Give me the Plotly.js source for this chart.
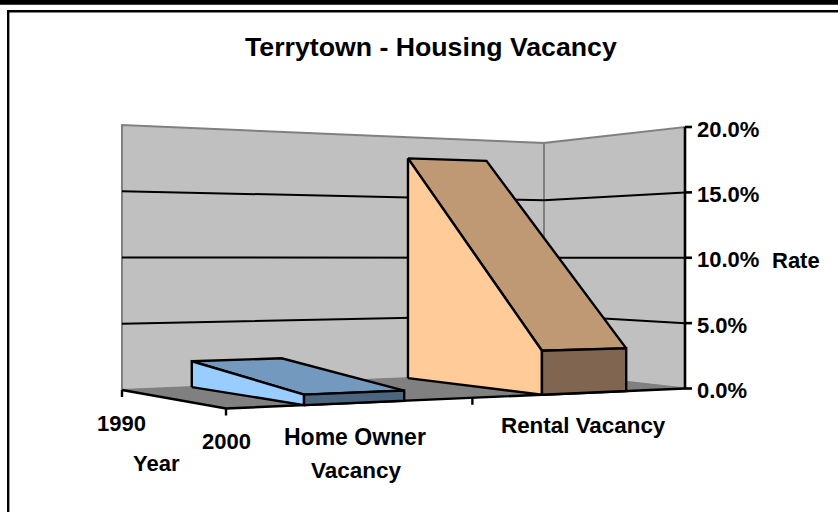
<!DOCTYPE html>
<html><head><meta charset="utf-8">
<script src="https://cdn.plot.ly/plotly-3.0.1.min.js"></script>
<style>html,body{margin:0;padding:0;background:#fff}#c{width:838px;height:512px}</style>
</head><body><div id="c"></div>
<script>
// ---- data ----
var chartTitle = "Terrytown - Housing Vacancy";
var years = ["1990", "2000"];
var homeOwnerVacancy = [2.0, 0.7];
var rentalVacancy = [18.3, 3.2];
var valueTicks = [0, 5, 10, 15, 20];
var valueTickLabels = ["0.0%", "5.0%", "10.0%", "15.0%", "20.0%"];
var seriesLabels = [["Home Owner", "Vacancy"], ["Rental Vacancy"]];
var valueAxisName = "Rate", yearAxisName = "Year";

// ---- 3D view: unit floor square -> screen (perspective), u along series, v along year ----
var floorFront = [226, 408.5], floorRight = [685, 388.5], floorBack = [544, 372.5], floorLeft = [122, 390];
var hRight = 261.5, hCorner = 229.5, hLeft = 265;
var bandBack = [[0.160, 0.369], [0.669, 0.859]];
var bandFront = [[0.164, 0.378], [0.679, 0.867]];
var seriesDivider = 0.526;
var vMax = 20;

var p0 = floorFront, p1 = floorRight, p2 = floorBack, p3 = floorLeft;
var dx1 = p1[0]-p2[0], dx2 = p3[0]-p2[0], sx = p0[0]-p1[0]+p2[0]-p3[0];
var dy1 = p1[1]-p2[1], dy2 = p3[1]-p2[1], sy = p0[1]-p1[1]+p2[1]-p3[1];
var den = dx1*dy2-dx2*dy1, g = (sx*dy2-dx2*sy)/den, h = (dx1*sy-sx*dy1)/den;
var A = p1[0]-p0[0]+g*p1[0], B = p3[0]-p0[0]+h*p3[0], D = p1[1]-p0[1]+g*p1[1], E = p3[1]-p0[1]+h*p3[1];
var ib = 1/hCorner - 1/hLeft, ig = 1/hCorner - 1/hRight, ia = 1/hRight - ib;
function P(u, v, val) {
  var Z = g*u + h*v + 1;
  var x = (A*u + B*v + p0[0]) / Z, y = (D*u + E*v + p0[1]) / Z;
  var height = 1 / (ia + ib*u + ig*v);
  return [x, y - height*val/vMax];
}
function seg(points, opts) {
  var xs = points.map(function(p){return p[0];}), ys = points.map(function(p){return p[1];});
  var t = {x: xs, y: ys, mode: 'lines', hoverinfo: 'skip', showlegend: false,
           line: {color: opts.line || '#000', width: opts.width === undefined ? 2.4 : opts.width, simplify: false}};
  if (opts.fill) { t.fill = 'toself'; t.fillcolor = opts.fill; }
  return t;
}
function poly(points, fill, line, width) {
  return seg(points.concat([points[0]]), {fill: fill, line: line, width: width});
}
var traces = [];
// walls
traces.push(poly([P(0,1,0), P(1,1,0), P(1,1,vMax), P(0,1,vMax)], '#C0C0C0', '#808080', 2));
traces.push(poly([P(1,1,0), P(1,0,0), P(1,0,vMax), P(1,1,vMax)], '#C0C0C0', '#808080', 2));
// floor
traces.push(poly([P(0,1,0), P(1,1,0), P(1,0,0), P(0,0,0)], '#808080', '#808080', 1));
// gridlines
valueTicks.slice(1, -1).forEach(function(t){
  traces.push(seg([P(0,1,t), P(1,1,t), P(1,0,t)], {width: 2}));
});
// floor edges + tick marks
traces.push(seg([P(0,1,0), P(0,0,0), P(1,0,0)], {}));
[[0,1],[0,0],[seriesDivider,0]].forEach(function(uv){
  var a = P(uv[0],uv[1],0);
  traces.push(seg([a, [a[0], a[1]+7]], {}));
});
// value axis
traces.push(seg([P(1,0,0), P(1,0,vMax)], {width: 2.6}));
valueTicks.forEach(function(t){
  var a = P(1,0,t);
  traces.push(seg([a, [a[0]+7, a[1]]], {width: 2.6}));
});
// blocks
function block(vals, back, front, cols) {
  var b = vals[0], f = vals[1];
  traces.push(poly([P(back[0],1,b), P(back[1],1,b), P(front[1],0,f), P(front[0],0,f)], cols[1]));
  traces.push(poly([P(back[0],1,0), P(front[0],0,0), P(front[0],0,f), P(back[0],1,b)], cols[0]));
  traces.push(poly([P(front[0],0,0), P(front[1],0,0), P(front[1],0,f), P(front[0],0,f)], cols[2]));
}
block(homeOwnerVacancy, bandBack[0], bandFront[0], ['#99CCFF', '#7399BF', '#4D6680']);
block(rentalVacancy, bandBack[1], bandFront[1], ['#FFCC99', '#BF9973', '#806650']);

// text
var fam = '"Liberation Sans", Arial, sans-serif';
function label(text, x, y, anchor, size) {
  return {text: '<b>' + text + '</b>', x: x, y: y, xref: 'x', yref: 'y', showarrow: false,
          xanchor: anchor || 'center', yanchor: 'middle',
          font: {family: fam, size: size || 22, color: '#000'}};
}
var ann = [label(chartTitle, 431, 47, 'center', 26.7)];
valueTicks.forEach(function(t, i){
  var a = P(1,0,t);
  ann.push(label(valueTickLabels[i], a[0]+9.5, a[1]+2, 'left'));
});
ann.push(label(years[0], 121, 423));
ann.push(label(years[1], 226, 441));
ann.push(label(yearAxisName, 156, 463));
ann.push(label(seriesLabels[0][0], 355, 437, 'center', 23));
ann.push(label(seriesLabels[0][1], 356, 470, 'center', 22.5));
ann.push(label(seriesLabels[1][0], 583, 425, 'center', 22.4));
ann.push(label(valueAxisName, 796, 260));

var shapes = [
  {type:'rect', xref:'x', yref:'y', x0:0, x1:838, y0:0, y1:4.7, fillcolor:'#000', line:{width:0}, layer:'below'},
  {type:'line', xref:'x', yref:'y', x0:8.2, x1:8.2, y0:10, y1:512, line:{color:'#000', width:2.4}, layer:'below'},
  {type:'line', xref:'x', yref:'y', x0:7, x1:838, y0:11.3, y1:11.3, line:{color:'#000', width:2.6}, layer:'below'}
];
var layout = {
  width: 838, height: 512, margin: {l:0, r:0, t:0, b:0},
  paper_bgcolor: '#fff', plot_bgcolor: '#fff', showlegend: false,
  xaxis: {range:[0,838], visible:false, fixedrange:true},
  yaxis: {range:[512,0], visible:false, fixedrange:true},
  annotations: ann, shapes: shapes
};
Plotly.newPlot('c', traces, layout, {displayModeBar:false, staticPlot:true});
</script></body></html>
